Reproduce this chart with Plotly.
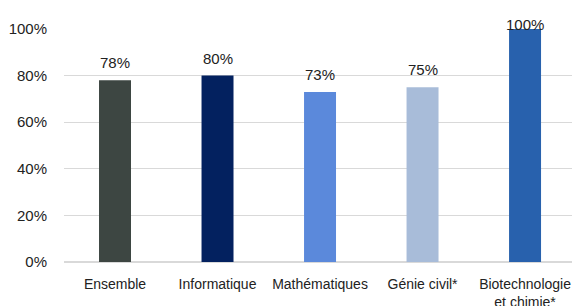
import plotly.graph_objects as go

categories = ["Ensemble", "Informatique", "Mathématiques", "Génie civil*", "Biotechnologie<br>et chimie*"]
values = [0.78, 0.80, 0.73, 0.75, 1.00]
labels = ["78%", "80%", "73%", "75%", "100%"]
colors = ["#3d4642", "#03215f", "#5b89db", "#a8bcd9", "#2861ad"]
yticks = [0, 0.2, 0.4, 0.6, 0.8, 1.0]
yticklabels = ["0%", "20%", "40%", "60%", "80%", "100%"]

fig = go.Figure(go.Bar(
    x=categories, y=values, marker_color=colors, marker_line_width=0,
    hoverinfo="skip",
))
# value labels above the bars (kept inside the chart area like the original)
for c, v, t in zip(categories, values, labels):
    fig.add_annotation(x=c, y=v, text=t, showarrow=False, yanchor="bottom",
                       yshift=(7 if v < 0.95 else -6),
                       font=dict(size=15, color="#222222"))

fig.update_layout(
    width=572, height=306,
    margin=dict(l=64, r=0, t=29, b=44),
    paper_bgcolor="white", plot_bgcolor="white",
    font=dict(family="Liberation Sans, Arial, sans-serif", color="#222222"),
    bargap=0.688, showlegend=False,
)
fig.update_xaxes(tickfont=dict(size=14), showgrid=False, showline=False, ticks="",
                 automargin=False, range=[-0.4976, 4.458], ticklabelstandoff=12)
fig.update_yaxes(range=[0, 1], tickvals=yticks, ticktext=yticklabels,
                 tickfont=dict(size=15), gridcolor="#d9d9d9", gridwidth=1,
                 zeroline=True, zerolinecolor="#d9d9d9", ticklabelstandoff=16,
                 automargin=False)
fig.write_html("out.html", config={"displayModeBar": False},
               post_script="document.body.style.margin='0';document.body.style.overflow='hidden';")
